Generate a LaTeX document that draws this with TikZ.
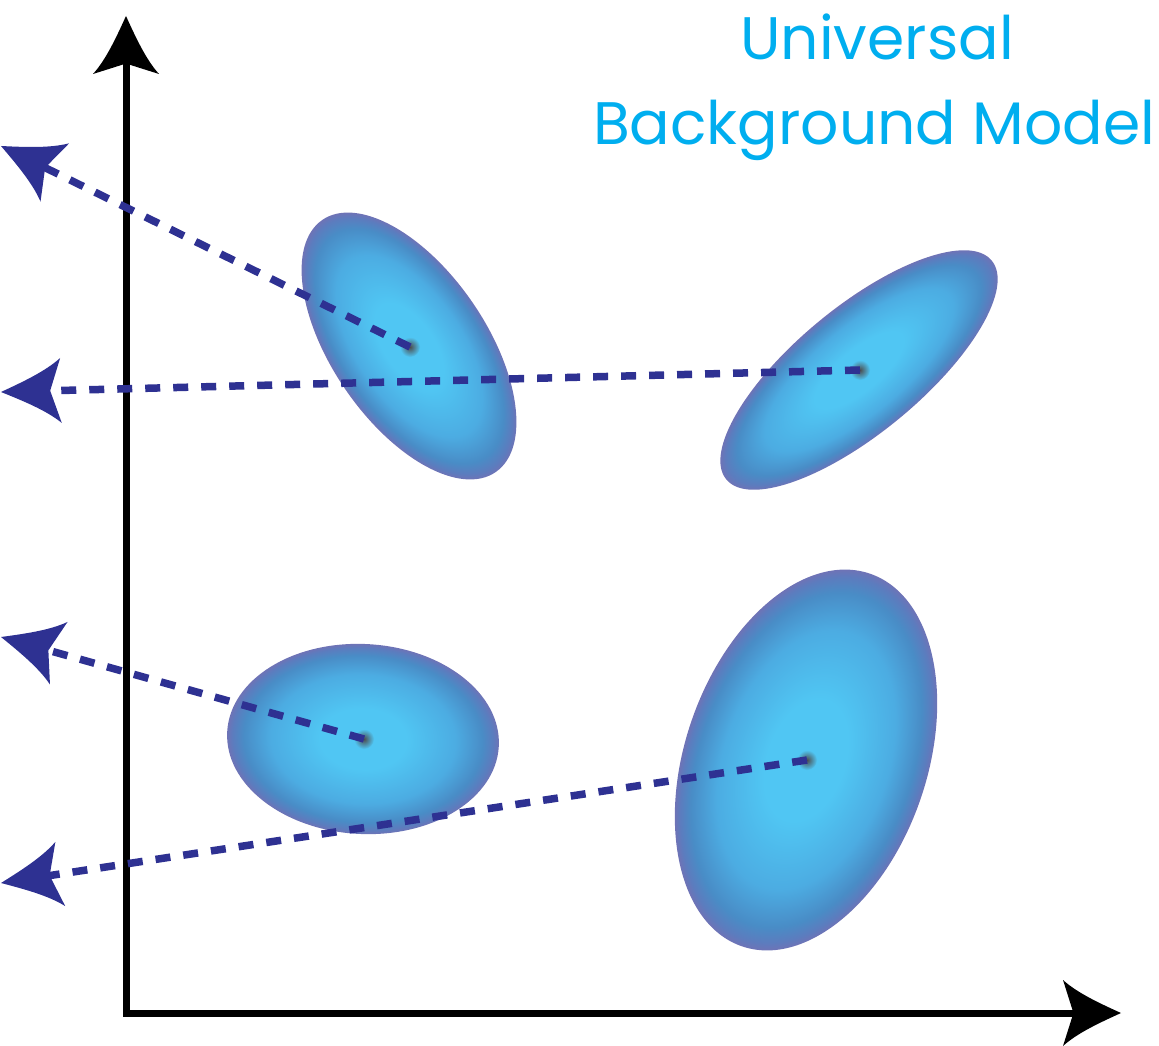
\documentclass[tikz,border=0pt]{standalone}
\usepackage{fontspec}
\newfontfamily\ubmfont{Poppins}
\usetikzlibrary{arrows.meta}

\definecolor{ubmcyan}{RGB}{0,174,239}
\definecolor{dashblue}{RGB}{46,49,146}
\definecolor{blobA}{RGB}{80,198,243}
\definecolor{blobB}{RGB}{76,172,226}
\definecolor{blobC}{RGB}{73,140,198}
\definecolor{blobD}{RGB}{92,124,190}
\definecolor{blobE}{RGB}{110,115,182}

\pgfdeclareradialshading{gaussblob}{\pgfpoint{0bp}{0bp}}{color(0bp)=(blobA); color(8bp)=(blobA); color(17bp)=(blobB); color(22bp)=(blobC); color(24bp)=(blobD); color(25bp)=(blobE); color(50bp)=(blobE)}

% arrow head with hollow (concave) flanks
\pgfdeclarearrow{
  name = Swoop,
  parameters = {\the\pgfarrowlength,\the\pgfarrowwidth},
  setup code = {
    \pgfarrowssettipend{0pt}
    \pgfarrowssetlineend{-0.72\pgfarrowlength}
    \pgfarrowssetbackend{-\pgfarrowlength}
    \pgfarrowssavethe\pgfarrowlength
    \pgfarrowssavethe\pgfarrowwidth
  },
  drawing code = {
    \pgfpathmoveto{\pgfqpoint{0pt}{0pt}}
    \pgfpathcurveto{\pgfqpoint{-.35\pgfarrowlength}{.14\pgfarrowwidth}}{\pgfqpoint{-.75\pgfarrowlength}{.3\pgfarrowwidth}}{\pgfqpoint{-\pgfarrowlength}{.5\pgfarrowwidth}}
    \pgfpathlineto{\pgfqpoint{-.82\pgfarrowlength}{0pt}}
    \pgfpathlineto{\pgfqpoint{-\pgfarrowlength}{-.5\pgfarrowwidth}}
    \pgfpathcurveto{\pgfqpoint{-.75\pgfarrowlength}{-.3\pgfarrowwidth}}{\pgfqpoint{-.35\pgfarrowlength}{-.14\pgfarrowwidth}}{\pgfqpoint{0pt}{0pt}}
    \pgfpathclose
    \pgfusepathqfill
  },
  defaults = {length = 10pt, width = 10pt}
}

\tikzset{
  axis/.style={line width=7pt, line join=miter, >={Swoop[length=58pt, width=66pt]}, <->},
  proj/.style={dashblue, line width=7.5pt, dash pattern=on 15pt off 13pt, >={Swoop[length=60pt, width=65pt]}, ->},
  ubmtext/.style={text=ubmcyan, font=\ubmfont\fontsize{60}{72}\selectfont, inner sep=0pt, anchor=base},
  spot/.style={inner color=black!70, outer color=blobA}
}

\begin{document}
\begin{tikzpicture}[x=1pt, y=-1pt]
  \useasboundingbox (0,0) rectangle (1159,1046);

  % axes
  \coordinate (O) at (126,1013);
  \coordinate (ytop) at (126,16);
  \coordinate (xend) at (1121,1013);
  \draw[axis] (ytop) -- (O) -- (xend);

  % gaussian components
  \begin{scope}[transform canvas={shift={(409,346)}, rotate=-55.5}]
    \shade[shading=gaussblob] (0,0) ellipse [x radius=153, y radius=77];
  \end{scope}
  \begin{scope}[transform canvas={shift={(859,370)}, rotate=39.5}]
    \shade[shading=gaussblob] (0,0) ellipse [x radius=172, y radius=63];
  \end{scope}
  \begin{scope}[transform canvas={shift={(363,739)}, rotate=-3}]
    \shade[shading=gaussblob] (0,0) ellipse [x radius=136, y radius=95];
  \end{scope}
  \begin{scope}[transform canvas={shift={(806,760)}, rotate=71}]
    \shade[shading=gaussblob] (0,0) ellipse [x radius=197, y radius=121];
  \end{scope}

  \coordinate (c1) at (410,347);
  \coordinate (c2) at (860,370);
  \coordinate (c3) at (364,739);
  \coordinate (c4) at (807,760);
  \coordinate (t1) at (1,146);
  \coordinate (t2) at (1,392);
  \coordinate (t3) at (1,637);
  \coordinate (t4) at (1,883);

  \foreach \c in {c1,c2,c3,c4}
    \shade[spot] (\c) circle (10);

  % projections onto the vertical axis
  \draw[proj] (c1) -- (t1);
  \draw[proj] (c2) -- (t2);
  \draw[proj] (c3) -- (t3);
  \draw[proj] (c4) -- (t4);

  \node[ubmtext] (uni) at (877,60) {Universal};
  \node[ubmtext] (bgm) at (874,145) {Background Model};
\end{tikzpicture}
\end{document}
